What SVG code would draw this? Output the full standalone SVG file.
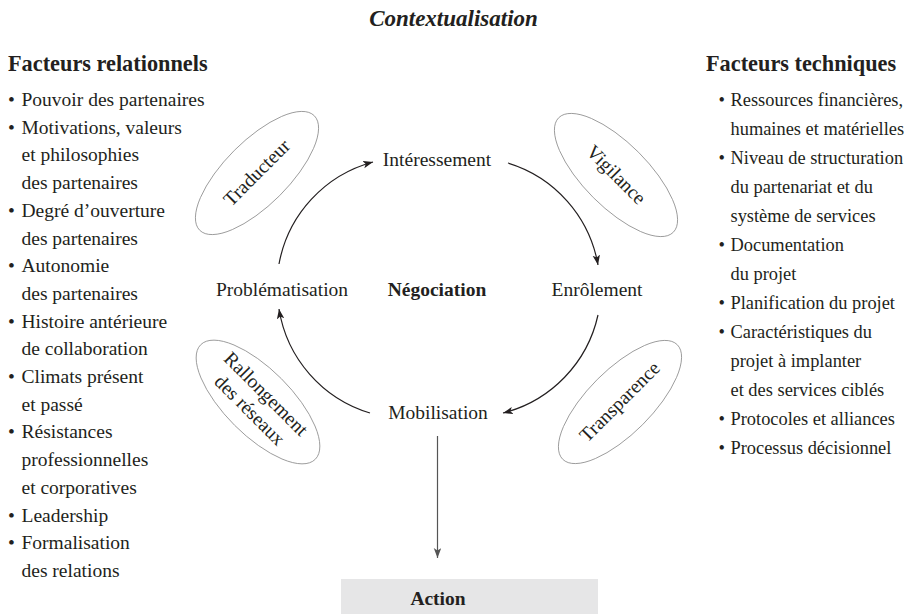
<svg xmlns="http://www.w3.org/2000/svg" width="907" height="614" viewBox="0 0 907 614">
<style>
text{font-family:"Liberation Serif","Times New Roman",serif;fill:#231f20}
.b{font-size:19.5px}
.r{font-size:18.4px}
.h{font-size:22.3px;font-weight:bold}
.t{font-size:23px;font-weight:bold;font-style:italic}
.c{font-size:19.5px;text-anchor:middle}
.cb{font-size:19.5px;font-weight:bold;text-anchor:middle}
.el{fill:none;stroke:#8a8a8a;stroke-width:0.8}
.arc{fill:none;stroke:#231f20;stroke-width:1.2}
.down{fill:none;stroke:#555;stroke-width:1.2}
</style>
<defs>
<marker id="ah" markerUnits="userSpaceOnUse" markerWidth="11" markerHeight="8" refX="10" refY="3.75" orient="auto">
<path d="M0,0 L10,3.75 L0,7.5 L2.5,3.75 z" fill="#231f20"/>
</marker>
<marker id="ahg" markerUnits="userSpaceOnUse" markerWidth="11" markerHeight="8" refX="10" refY="3.75" orient="auto">
<path d="M0,0 L10,3.75 L0,7.5 L2.5,3.75 z" fill="#555"/>
</marker>
</defs>

<g id="title"><text class="t" x="453.5" y="26" text-anchor="middle">Contextualisation</text></g>

<g id="facteurs-relationnels">
<text class="h" x="8" y="71">Facteurs relationnels</text>
<text class="b">
<tspan x="8" y="106">•</tspan>
<tspan x="8" y="133.7">•</tspan>
<tspan x="8" y="216.8">•</tspan>
<tspan x="8" y="272.2">•</tspan>
<tspan x="8" y="327.6">•</tspan>
<tspan x="8" y="383">•</tspan>
<tspan x="8" y="438.4">•</tspan>
<tspan x="8" y="521.5">•</tspan>
<tspan x="8" y="549.2">•</tspan>
</text>
<text class="b">
<tspan x="21.5" y="106">Pouvoir des partenaires</tspan>
<tspan x="21.5" y="133.7">Motivations, valeurs</tspan>
<tspan x="21.5" y="161.4">et philosophies</tspan>
<tspan x="21.5" y="189.1">des partenaires</tspan>
<tspan x="21.5" y="216.8">Degré d’ouverture</tspan>
<tspan x="21.5" y="244.5">des partenaires</tspan>
<tspan x="21.5" y="272.2">Autonomie</tspan>
<tspan x="21.5" y="299.9">des partenaires</tspan>
<tspan x="21.5" y="327.6">Histoire antérieure</tspan>
<tspan x="21.5" y="355.3">de collaboration</tspan>
<tspan x="21.5" y="383">Climats présent</tspan>
<tspan x="21.5" y="410.7">et passé</tspan>
<tspan x="21.5" y="438.4">Résistances</tspan>
<tspan x="21.5" y="466.1">professionnelles</tspan>
<tspan x="21.5" y="493.8">et corporatives</tspan>
<tspan x="21.5" y="521.5">Leadership</tspan>
<tspan x="21.5" y="549.2">Formalisation</tspan>
<tspan x="21.5" y="576.9">des relations</tspan>
</text>
</g>

<g id="facteurs-techniques">
<text class="h" x="706" y="71">Facteurs techniques</text>
<text class="r">
<tspan x="718.5" y="106">•</tspan>
<tspan x="718.5" y="164">•</tspan>
<tspan x="718.5" y="251">•</tspan>
<tspan x="718.5" y="309">•</tspan>
<tspan x="718.5" y="338">•</tspan>
<tspan x="718.5" y="425">•</tspan>
<tspan x="718.5" y="454">•</tspan>
</text>
<text class="r">
<tspan x="730.5" y="106">Ressources financières,</tspan>
<tspan x="730.5" y="135">humaines et matérielles</tspan>
<tspan x="730.5" y="164">Niveau de structuration</tspan>
<tspan x="730.5" y="193">du partenariat et du</tspan>
<tspan x="730.5" y="222">système de services</tspan>
<tspan x="730.5" y="251">Documentation</tspan>
<tspan x="730.5" y="280">du projet</tspan>
<tspan x="730.5" y="309">Planification du projet</tspan>
<tspan x="730.5" y="338">Caractéristiques du</tspan>
<tspan x="730.5" y="367">projet à implanter</tspan>
<tspan x="730.5" y="396">et des services ciblés</tspan>
<tspan x="730.5" y="425">Protocoles et alliances</tspan>
<tspan x="730.5" y="454">Processus décisionnel</tspan>
</text>
</g>

<g id="connectors">
<path class="arc" d="M279,264 A130,130 0 0 1 373,162" marker-end="url(#ah)"/>
<path class="arc" d="M508,163 A130,130 0 0 1 598,265" marker-end="url(#ah)"/>
<path class="arc" d="M598,315 A130,130 0 0 1 503,413" marker-end="url(#ah)"/>
<path class="arc" d="M370,413 A130,130 0 0 1 279,309" marker-end="url(#ah)"/>
<path class="down" d="M437.5,436 L437.5,558" marker-end="url(#ahg)"/>
</g>

<g id="interessement"><text class="c" x="437" y="166">Intéressement</text></g>
<g id="problematisation"><text class="c" x="282" y="296">Problématisation</text></g>
<g id="negociation"><text class="cb" x="437" y="296">Négociation</text></g>
<g id="enrolement"><text class="c" x="597" y="296">Enrôlement</text></g>
<g id="mobilisation"><text class="c" x="438" y="419">Mobilisation</text></g>

<g id="traducteur" transform="translate(257,173) rotate(-45)">
<ellipse class="el" cx="0" cy="0" rx="81" ry="32"/>
<text class="c" x="0" y="6">Traducteur</text>
</g>
<g id="vigilance" transform="translate(616,175) rotate(45)">
<ellipse class="el" cx="0" cy="0" rx="81" ry="32"/>
<text class="c" x="0" y="6">Vigilance</text>
</g>
<g id="rallongement" transform="translate(258,402) rotate(45)">
<ellipse class="el" cx="0" cy="0" rx="81" ry="33"/>
<text class="c" x="0" y="-5">Rallongement</text>
<text class="c" x="0" y="18">des réseaux</text>
</g>
<g id="transparence" transform="translate(620,402) rotate(-45)">
<ellipse class="el" cx="0" cy="0" rx="81" ry="32"/>
<text class="c" x="0" y="6">Transparence</text>
</g>

<g id="action">
<rect x="341" y="579" width="257" height="36" fill="#e6e6e7"/>
<text class="cb" x="438" y="605">Action</text>
</g>
</svg>
